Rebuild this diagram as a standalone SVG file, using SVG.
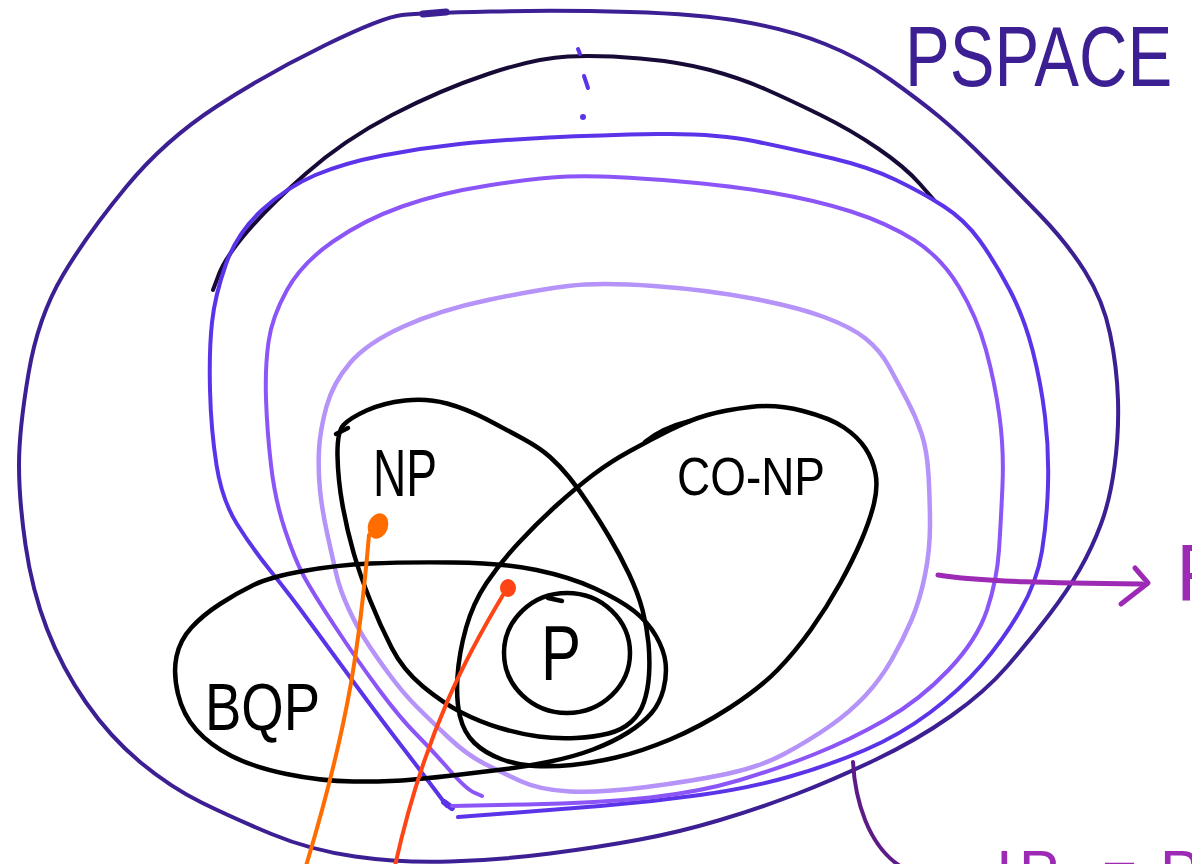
<svg xmlns="http://www.w3.org/2000/svg" width="1192" height="864" viewBox="0 0 1192 864">
<style>
.ln{fill:none;stroke-linecap:round;stroke-linejoin:round}
.k{stroke:#000;stroke-width:4.5}
.lbl{font-family:"Liberation Sans",Arial,sans-serif;font-weight:normal}
</style>
<rect width="1192" height="864" fill="#fff"/>
<g id="pspace">
<path class="ln" stroke="#3c1f93" stroke-width="4" d="M402,15 Q421,13 490.5,11.5 Q560,10 630,12 Q700,14 745,22 Q790,30 825,44 Q860,58 889.5,79 Q919,100 939,116.5 Q959,133 986,160 Q1013,187 1040,215 Q1067,243 1085,271.5 Q1103,300 1110,333.5 Q1117,367 1118,400 Q1119,433 1114.5,466.5 Q1110,500 1101,524 Q1092,548 1080,569 Q1068,590 1049,615 Q1030,640 1007.5,666 Q985,692 951,716 Q917,740 875,760 Q833,780 796.5,794 Q760,808 720,820 Q680,832 640,839.5 Q600,847 550,853.5 Q500,860 450,861.5 Q400,863 355,856.5 Q310,850 271.5,834 Q233,818 201.5,802.5 Q170,787 140,762 Q110,737 86,702.5 Q62,668 47,629 Q32,590 25.5,545 Q19,500 19,465 Q19,430 28.5,373.5 Q38,317 63,275 Q88,233 126.5,186.5 Q165,140 216.5,106.5 Q268,73 325.5,45 Q383,17 402,15 Z"/>
<path class="ln" stroke="#3c1f93" stroke-width="7" d="M423,14 L446,12"/>
<text class="lbl" transform="translate(905,86) scale(0.78,1)" x="0" y="0" font-size="86" fill="#3c1f93">PSPACE</text>
</g>
<g id="levels">
<path class="ln" stroke="#170a36" stroke-width="4" d="M213,290 L219,274 Q225,258 246.5,232.5 Q268,207 306,173.5 Q344,140 392,115 Q440,90 488,74 Q536,58 568,56.5 Q600,55 640,58.5 Q680,62 710,70 Q740,78 765,89 Q790,100 820.5,115 Q851,130 878,148.5 Q905,167 919.5,183.5 L934,200"/>
<path class="ln" stroke="#5b34ea" stroke-width="4" d="M578,49 L580,54 M584,76 L588,88"/>
<circle cx="583" cy="117" r="3" fill="#5b34ea"/>
<path class="ln" stroke="#5b34ea" stroke-width="4" d="M447,806 L433.5,788 Q420,770 400,744 Q380,718 355,684 Q330,650 310,622.5 Q290,595 271,571.5 Q252,548 237,524 Q222,500 216.5,465 Q211,430 210,390 Q209,350 212,322.5 Q215,295 226,264 Q237,233 262,210 Q287,187 315.5,175 Q344,163 382.5,155.5 Q421,148 459.5,144 Q498,140 549,137.5 Q600,135 657.5,134 Q715,133 756,141.5 Q797,150 833,158.5 Q869,167 896,180 Q923,193 944,206.5 Q965,220 980,241 Q995,262 1009.5,289.5 Q1024,317 1032.5,350 Q1041,383 1045,416.5 Q1049,450 1048,485 Q1047,520 1042,551 Q1037,582 1020,611 Q1003,640 981.5,665 Q960,690 930,712.5 Q900,735 865,750 Q830,765 790,776.5 Q750,788 700,795 Q650,802 600,806 Q550,810 504,813.5 L458,817"/>
<path class="ln" stroke="#5b34ea" stroke-width="6" d="M444,802 L452,808"/>
<path class="ln" stroke="#8b55f7" stroke-width="4" d="M482,796 L474,792.5 Q466,789 449,769.5 Q432,750 416,734 Q400,718 378.5,689 Q357,660 335,626.5 Q313,593 304,576.5 Q295,560 285,530 Q275,500 271,465 Q267,430 266,398.5 Q265,367 268.5,342 Q272,317 287,290 Q302,263 333,241.5 Q364,220 402,206.5 Q440,193 488,185.5 Q536,178 568,176.5 Q600,175 663,180 Q726,185 770.5,192.5 Q815,200 851,211.5 Q887,223 914,240 Q941,257 959,287 Q977,317 986,350 Q995,383 999.5,416.5 Q1004,450 1002.5,485 Q1001,520 999,550 Q997,580 987,610 Q977,640 948.5,670 Q920,700 885,720 Q850,740 815,754 Q780,768 740,780 Q700,792 650,797.5 Q600,803 526,804.5 L452,806"/>
<path class="ln" stroke="#b593f8" stroke-width="4.5" d="M568,286 Q600,282 654,286 Q708,290 752.5,298.5 Q797,307 824,317 Q851,327 865.5,338.5 Q880,350 889,366.5 Q898,383 907,400 Q916,417 921.5,433.5 Q927,450 928.5,475 Q930,500 930,525 Q930,550 925,575 Q920,600 911.5,620 Q903,640 891.5,660 Q880,680 865,696 Q850,712 830,726 Q810,740 785,753.5 Q760,767 726.5,774 Q693,781 646.5,787 Q600,793 570,791.5 Q540,790 521.5,781.5 Q503,773 485,764 Q467,755 448.5,737.5 Q430,720 416.5,706.5 Q403,693 389,674 Q375,655 366,641 Q357,627 348.5,608.5 Q340,590 336.5,575 Q333,560 327.5,535 Q322,510 320,490 Q318,470 319,450 Q320,430 326.5,406.5 Q333,383 350,363 Q367,343 403.5,326.5 Q440,310 488,300 Q536,290 568,286 Z"/>
</g>
<g id="bqp">
<path class="ln k" d="M178,694 Q173,673 176.5,656.5 Q180,640 191.5,627.5 Q203,615 220,604 Q237,593 253.5,585 Q270,577 303.5,571 Q337,565 370,563.5 Q403,562 453,562.5 Q503,563 536.5,570 Q570,577 595,588.5 Q620,600 634,611 Q648,622 656,636 Q664,650 665.5,662.5 Q667,675 663.5,689 Q660,703 651.5,713 Q643,723 628,732.5 Q613,742 593,749.5 Q573,757 548,762 Q523,767 498,770 Q473,773 456.5,775 Q440,777 413.5,779.5 Q387,782 353.5,781.5 Q320,781 286.5,774 Q253,767 231.5,756 Q210,745 196.5,730 Q183,715 178,694 Z"/>
<text class="lbl" x="205" y="730" font-size="66" textLength="115" lengthAdjust="spacingAndGlyphs" fill="#000">BQP</text>
</g>
<g id="np">
<path class="ln k" d="M343.5,425 Q337,432 337.5,456 Q338,480 342.5,505 Q347,530 353.5,552.5 Q360,575 370,600 Q380,625 391.5,647.5 Q403,670 423,686.5 Q443,703 461.5,712.5 Q480,722 500,728 Q520,734 538.5,736.5 Q557,739 576,738 Q595,737 608.5,733.5 Q622,730 631,722 Q640,714 644,702 Q648,690 649,675 Q650,660 648.5,643.5 Q647,627 642.5,610 Q638,593 629,574 Q620,555 609,536.5 Q598,518 587.5,502.5 Q577,487 568.5,476.5 Q560,466 550,457 Q540,448 523.5,439 Q507,430 487,419.5 Q467,409 447,403.5 Q427,398 405,400.5 Q383,403 366.5,410.5 Q350,418 343.5,425 Z"/>
<path class="ln k" d="M336,434 L348,428"/>
<text class="lbl" x="373" y="496" font-size="66" textLength="64" lengthAdjust="spacingAndGlyphs" fill="#000">NP</text>
</g>
<g id="conp">
<path class="ln k" d="M519,542.5 Q500,563 486.5,583 Q473,603 466,628 Q459,653 457.5,676.5 Q456,700 460,716.5 Q464,733 474.5,743 Q485,753 501,759 Q517,765 534.5,766 Q552,767 572,765 Q592,763 616,757.5 Q640,752 670,739.5 Q700,727 730,707.5 Q760,688 777.5,670 Q795,652 811,629.5 Q827,607 840,583.5 Q853,560 861.5,540 Q870,520 874,503.5 Q878,487 875.5,473.5 Q873,460 865.5,448.5 Q858,437 844,427.5 Q830,418 803,411 Q776,404 750.5,407 Q725,410 707.5,415 Q690,420 670,430 Q650,440 630,451 Q610,462 593.5,474.5 Q577,487 557.5,504.5 Q538,522 519,542.5 Z"/>
<path class="ln k" d="M645,442 Q662,428 690,421"/>
<text class="lbl" x="677" y="495" font-size="54" textLength="148" lengthAdjust="spacingAndGlyphs" fill="#000">CO-NP</text>
</g>
<g id="p">
<ellipse class="ln k" cx="567" cy="653" rx="63" ry="60"/>
<path class="ln k" d="M548,598 L562,601"/>
<text class="lbl" x="541" y="680" font-size="78" textLength="40" lengthAdjust="spacingAndGlyphs" fill="#000">P</text>
</g>
<g id="labels-edge">
<text class="lbl" x="1176" y="600" font-size="80" fill="#9c2ab5">PH</text>
<text class="lbl" x="996 1019 1102 1160" y="892" font-size="60" fill="#9c2ab5">IP=PSPACE</text>
</g>
<g id="connectors">
<path class="ln" stroke="#ff6d00" stroke-width="4" d="M369,535 C360,640 350,720 306,866"/>
<ellipse cx="378" cy="526" rx="10" ry="13" transform="rotate(20 378 526)" fill="#ff6d00"/>
<path class="ln" stroke="#ff4516" stroke-width="4" d="M503,595 C470,650 425,730 395,866"/>
<ellipse cx="508" cy="588" rx="8" ry="9" fill="#ff4516"/>
<path class="ln" stroke="#9c2ab5" stroke-width="5" d="M938,575 C980,582 1060,583 1142,584"/>
<path class="ln" stroke="#9c2ab5" stroke-width="5" d="M1135,568 L1148,583 L1121,604"/>
<path class="ln" stroke="#5c1b86" stroke-width="4" d="M853,762 C855,800 868,845 900,866"/>
</g>
</svg>
